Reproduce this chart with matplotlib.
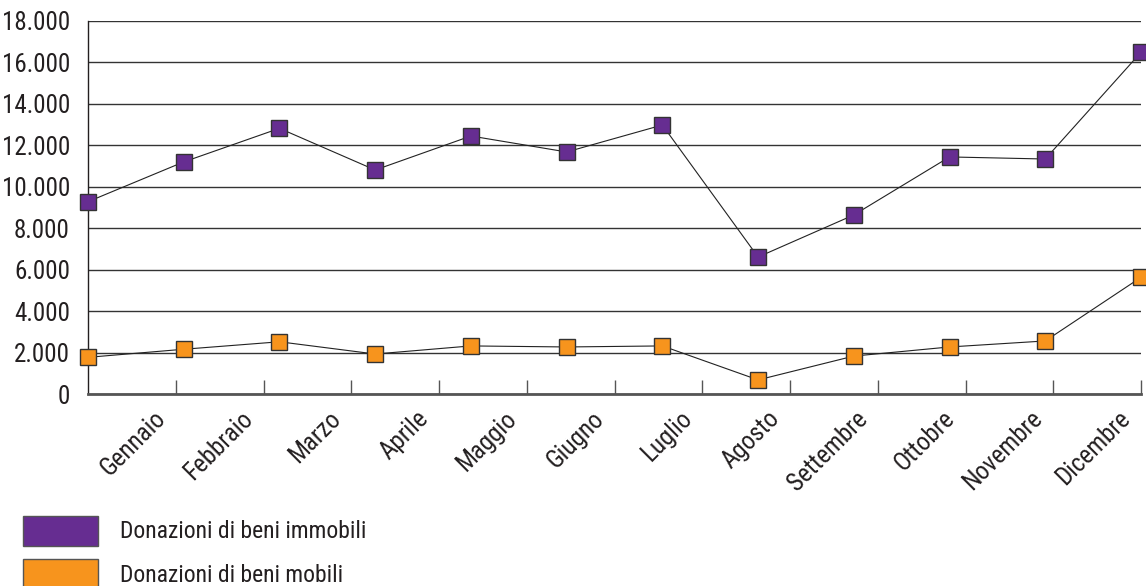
import numpy as np
import matplotlib
matplotlib.use("Agg")
import matplotlib.pyplot as plt
from matplotlib.patches import Rectangle
from matplotlib.ticker import FuncFormatter
from matplotlib import font_manager

months = ['Gennaio', 'Febbraio', 'Marzo', 'Aprile', 'Maggio', 'Giugno',
          'Luglio', 'Agosto', 'Settembre', 'Ottobre', 'Novembre', 'Dicembre']

immobili = [9280, 11200, 12820, 10810, 12450, 11680,
            12980, 6610, 8640, 11440, 11340, 16490]
mobili = [1770, 2160, 2520, 1930, 2320, 2270,
          2320, 680, 1830, 2270, 2560, 5630]

series_names = ['Donazioni di beni immobili', 'Donazioni di beni mobili']
purple = '#662d91'
orange = '#f7941d'

# pick the narrowest family that is actually installed
installed = {f.name for f in font_manager.fontManager.ttflist}
for fam in ['Liberation Sans Narrow', 'DejaVu Sans Condensed', 'Roboto Condensed', 'Roboto']:
    if fam in installed:
        plt.rcParams['font.family'] = [fam, 'DejaVu Sans']
        break


def main():
    fig = plt.figure(figsize=(11.46, 5.86), dpi=100)
    ax = fig.add_axes([88 / 1146, 1 - 394 / 586, (1141 - 88) / 1146, (394 - 21) / 586])

    n = len(months)
    x = np.arange(n)

    for vals, col in [(immobili, purple), (mobili, orange)]:
        ax.plot(x, vals, color='#222222', lw=0.8, marker='s', markersize=11,
                markerfacecolor=col, markeredgecolor='#333333', markeredgewidth=1.0,
                clip_on=False, zorder=3)

    ax.set_xlim(0, n - 1)
    ax.set_ylim(0, 18000)
    ax.set_yticks(np.arange(0, 18001, 2000))
    ax.yaxis.set_major_formatter(FuncFormatter(lambda v, p: f'{int(v):,}'.replace(',', '.')))
    ax.grid(axis='y', color='#333333', lw=1.0)
    ax.set_axisbelow(True)

    # tick marks split the axis into 12 bins, labels in the middle of each
    step = (n - 1) / n
    ax.set_xticks(np.arange(1, n + 1) * step)
    ax.set_xticklabels([])
    ax.set_xticks((np.arange(n) + 0.5) * step + 0.22, minor=True)
    ax.set_xticklabels(months, minor=True, rotation=45, ha='right',
                       rotation_mode='anchor', fontsize=18, color='#231f20')
    ax.tick_params(axis='x', which='major', direction='in', length=10,
                   color='#555555', width=1)
    ax.tick_params(axis='x', which='minor', length=0, pad=9)
    ax.tick_params(axis='y', length=0, pad=13, labelsize=18, labelcolor='#231f20')

    for s in ['top', 'right']:
        ax.spines[s].set_visible(False)
    ax.spines['left'].set_color('#231f20')
    ax.spines['left'].set_linewidth(1.0)
    ax.spines['bottom'].set_color('#555555')
    ax.spines['bottom'].set_linewidth(2.0)

    # legend drawn by hand at the bottom left
    W, H = 1146, 586
    for i, (name, col) in enumerate(zip(series_names, [purple, orange])):
        y0 = 516 + i * 43
        fig.patches.append(Rectangle((23 / W, 1 - (y0 + 30) / H), 75 / W, 30 / H,
                                     transform=fig.transFigure, facecolor=col,
                                     edgecolor='#555555', lw=1))
        fig.text(120 / W, 1 - (y0 + 16) / H, name, fontsize=17, va='center',
                 ha='left', color='#231f20')

    fig.savefig('out.png', dpi=100)


if __name__ == "__main__":
    main()
